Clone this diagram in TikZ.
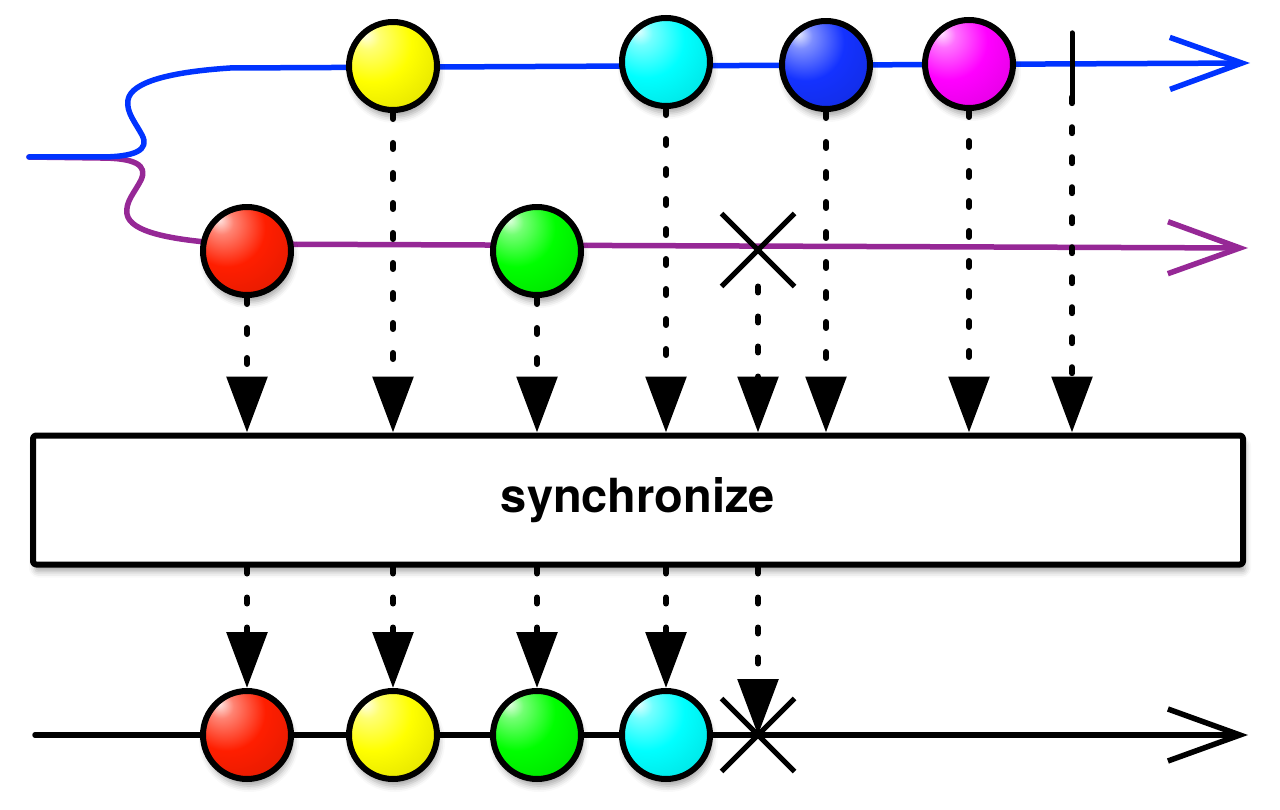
\documentclass[tikz,border=0pt]{standalone}
\usepackage{fontspec}
\newfontfamily\labelfont{TeX Gyre Heros}
\usetikzlibrary{arrows.meta, positioning, shapes.misc, shadows.blur}

\definecolor{topblue}{RGB}{0,51,255}
\definecolor{midpurple}{RGB}{150,40,150}
\definecolor{marbleblue}{RGB}{20,50,255}
\definecolor{marblered}{RGB}{255,30,0}

\makeatletter
\pgfdeclareradialshading[tikz@ball]{marbleshade}{\pgfpoint{-16bp}{18bp}}{%
  color(0bp)=(tikz@ball!10!white); color(7bp)=(tikz@ball!55!white);
  color(22bp)=(tikz@ball); color(42bp)=(tikz@ball!88!black);
  color(62bp)=(tikz@ball!55!black); color(80bp)=(tikz@ball!45!black)}
\makeatother

\begin{document}
\begin{tikzpicture}[x=1pt, y=-1pt, line join=round,
  softshadow/.style={blur shadow={shadow xshift=2pt, shadow yshift=-7pt, shadow blur radius=6pt, shadow opacity=35}},
  marble/.style={circle, draw, line width=6pt, minimum size=88pt, inner sep=0pt, ball color=#1, shading=marbleshade, softshadow},
  errx/.style={cross out, draw, line width=5pt, minimum size=68pt, inner sep=0pt},
  stopbar/.style={inner sep=0pt, minimum width=0pt, minimum height=64pt},
  timeline/.style={line width=5.5pt, line cap=round, -{Straight Barb[length=72pt, width=52pt]}},
  flow/.style={line width=6pt, line cap=round, dash pattern=on 6pt off 24pt, -{Triangle[width=40pt, length=56pt]}},
  opbox/.style={draw, line width=6pt, rounded corners=3pt, fill=white, minimum width=1210pt, minimum height=129pt,
    font=\labelfont\fontsize{47}{56}\selectfont\bfseries, softshadow}]

  \useasboundingbox (0,0) rectangle (1280,810);

  % source streams
  \coordinate (src) at (29,157);
  \coordinate (topend) at (1250,63);
  \coordinate (midend) at (1248,248);
  \draw [timeline, draw=midpurple] (src) -- (100,158) .. controls (135,158) and (148,165) .. (141,180)
    .. controls (135,192) and (125,202) .. (127,214) .. controls (130,232) and (170,240) .. (230,244) -- (midend);
  \draw [timeline, draw=topblue] (src) -- (100,157) .. controls (135,157) and (150,150) .. (142,135)
    .. controls (135,122) and (126,112) .. (128,100) .. controls (131,82) and (170,72) .. (230,68) -- (topend);

  % result stream
  \coordinate (outline) at (0,735);
  \coordinate (outstart) at (35,735);
  \coordinate (outend) at (1248,735);
  \draw [timeline] (outstart) -- (outend);

  \node [marble=yellow] (iyellow) at (393,66) {};
  \node [marble=cyan] (icyan) at (666,62) {};
  \node [marble=marbleblue] (iblue) at (826,65) {};
  \node [marble=magenta] (ipink) at (969,64) {};
  \node [stopbar] (idone) at (1072,65) {};
  \draw [line width=5pt, line cap=round] (idone.north) -- (idone.south);

  \node [marble=marblered] (ired) at (247,251) {};
  \node [marble=green] (igreen) at (537,251) {};
  \node [errx] (ierr) at (758,250) {};

  \node [opbox] (sync) at (638,500) {synchronize};

  \node [marble=marblered] (ored) at (ired |- outline) {};
  \node [marble=yellow] (oyellow) at (iyellow |- outline) {};
  \node [marble=green] (ogreen) at (igreen |- outline) {};
  \node [marble=cyan] (ocyan) at (icyan |- outline) {};
  \node [errx] (oerr) at (ierr |- outline) {};

  \foreach \m in {ired, iyellow, igreen, icyan, ierr, iblue, ipink, idone}
    \draw [flow] (\m.south) -- (\m |- sync.north);
  \foreach \m in {ored, oyellow, ogreen, ocyan}
    \draw [flow] (sync.south -| \m) -- (\m.north);
  \draw [flow] (sync.south -| oerr) -- (oerr.center);
\end{tikzpicture}
\end{document}
